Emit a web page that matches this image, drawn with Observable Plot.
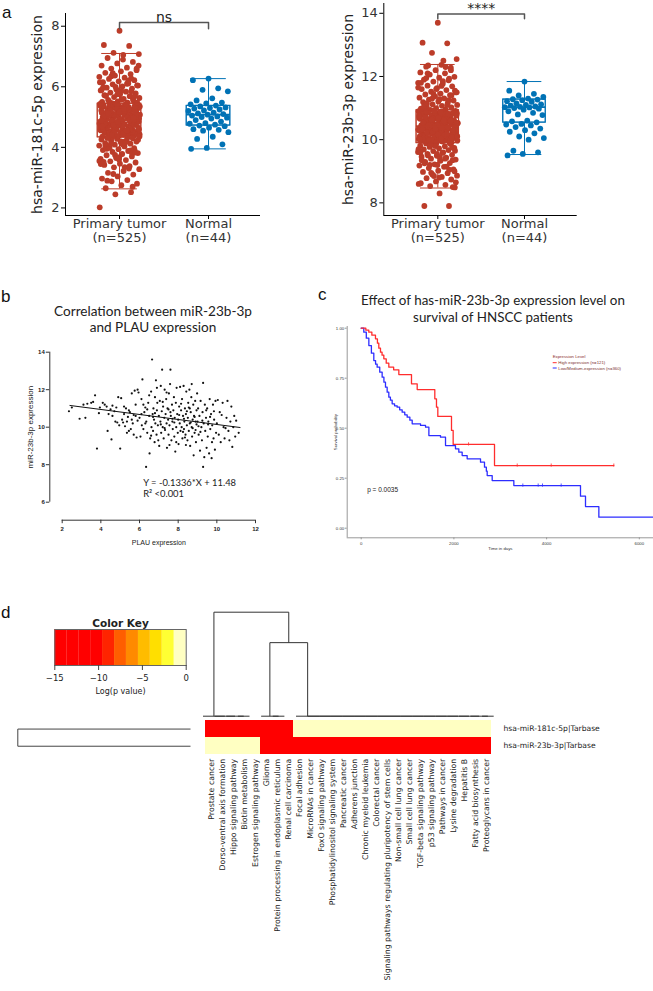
<!DOCTYPE html>
<html><head><meta charset="utf-8">
<script src="https://cdn.jsdelivr.net/npm/d3@7"></script>
<script src="https://cdn.jsdelivr.net/npm/@observablehq/plot@0.6"></script>
<style>
body{margin:0;background:#fff;}
#fig{position:relative;width:653px;height:991px;overflow:hidden;background:#fff;}
#fig svg{position:absolute;overflow:visible;}
</style></head><body><div id="fig"></div>
<script>
// ---------------- DATA ----------------
const parse = s => s.trim().split(/\s+/).map(Number);
const parsePairs = s => s.trim().split(/\s+/).map(p => p.split(",").map(Number));

// panel a
const groupNames = ["Primary tumor", "Normal"];
const groupN = [525, 44];
const groupColors = ["#BC3C29", "#0072B5"];

const mir181Tumor = parse(`
7.85 7.38 7.35 7.12 7.08 7.05 6.95 6.82 6.77 6.7 6.63 6.6 6.55 6.51 6.46 6.42 6.37 6.33 6.3 6.26 6.22 6.18 6.15 6.11 6.08 6.04 6.01 5.97 5.94 5.91 5.88 5.84 5.81 5.78 5.75 5.72 5.69 5.66 5.63 5.6 5.57 5.55 5.52 5.5 5.48 5.46 6.05 5.86 5.71 6.28
5.44 5.43 5.41 5.4 5.38 5.36 5.35 5.33 5.31 5.3 5.28 5.27 5.25 5.23 5.22 5.2 5.18 5.17 5.15 5.13 5.12 5.1 5.08 5.07 5.05 5.03 5.02 5.0 4.98 4.97 4.95 4.93 4.92 4.91 5.42 5.37 5.32 5.26 5.21 5.16 5.11 5.06 5.01 4.96 5.34 5.19 5.04 5.29 5.14 4.99
4.89 4.87 4.86 4.84 4.82 4.81 4.79 4.77 4.75 4.74 4.72 4.7 4.68 4.67 4.65 4.63 4.62 4.6 4.58 4.56 4.55 4.53 4.51 4.5 4.48 4.46 4.45 4.43 4.41 4.4 4.38 4.36 4.35 4.34 4.88 4.83 4.78 4.73 4.69 4.64 4.59 4.54 4.49 4.44 4.39 4.76 4.61 4.47 4.85 4.71
4.32 4.3 4.28 4.26 4.24 4.22 4.19 4.17 4.14 4.12 4.09 4.06 4.03 4.0 3.97 3.94 3.91 3.88 3.85 3.81 3.78 3.74 3.7 3.66 3.62 3.58 3.54 3.5 3.46 3.42 3.38 3.34 3.28 3.22 3.16 3.1 3.04 2.97 2.92 2.88 2.8 2.75 2.65 2.52 2.45 2.02 4.2 4.05 3.9 3.6
5.39 5.24 5.09 4.94 4.8 4.66 4.52 4.37 5.45 5.3 5.15 5.0 4.86 4.72 4.57 4.42 5.35 5.2 5.05 4.9 4.76 4.62 4.48 4.33 5.41 5.26 5.11 4.97 4.83 4.68 4.54 4.4 5.33 5.18 5.03 4.89 4.74 4.6 4.46 4.31
5.6 5.75 5.9 6.1 6.35 6.6 4.2 4.05 3.9 3.75 3.55 3.35 5.52 5.68 5.82 5.98 6.2 6.45 4.25 4.1 3.95 3.8 3.65 3.45 5.36 5.22 5.07 4.93 4.78 4.63 4.49 4.36 5.27 5.13 4.98 4.84 4.69 4.55 4.41
5.48 5.58 5.7 5.85 6.0 6.15 4.15 3.98 3.83 3.68 3.52 3.3 3.12 6.7 6.9 2.9 2.7 5.44 4.88 4.56 4.12`);
const mir181Normal = parse(`6.27 6.22 5.95 5.9 5.85 5.62 5.55 5.48 5.45 5.42 5.38 5.35 5.32 5.3 5.28 5.25 5.22 5.2 5.15 5.12 5.1 5.08 5.05 5.02 5.0 4.98 4.95 4.9 4.85 4.8 4.78 4.75 4.72 4.7 4.65 4.6 4.58 4.55 4.5 4.35 4.28 4.1 3.98 3.95`);
const box181Q1 = [4.33, 4.72], box181Median = [4.9, 5.08], box181Q3 = [5.44, 5.37], box181Lower = [2.63, 3.95], box181Upper = [7.1, 6.27];

const mir23bTumor = parse(`
13.7 13.07 13.05 12.75 12.55 12.37 12.31 12.28 12.2 12.13 12.1 12.06 11.99 11.96 11.9 11.88 11.84 11.8 11.77 11.71 11.69 11.63 11.6 11.57 11.52 11.5 11.46 11.43 11.41 11.37 11.33 11.31 11.27 11.24 11.21 11.19 11.16 11.12 11.1 11.07 11.05 11.02 11.0 10.98 10.96 10.94 11.55 11.28 11.14 11.93
10.92 10.9 10.89 10.86 10.85 10.83 10.8 10.79 10.77 10.76 10.74 10.71 10.7 10.68 10.66 10.65 10.63 10.61 10.6 10.58 10.57 10.55 10.53 10.52 10.5 10.49 10.47 10.46 10.44 10.43 10.91 10.87 10.82 10.78 10.73 10.69 10.64 10.59 10.54 10.48 10.45 10.62 10.75 10.84 10.51 10.67 10.56 10.72 10.88 10.81
10.42 10.4 10.39 10.37 10.35 10.34 10.32 10.3 10.29 10.27 10.25 10.23 10.22 10.2 10.18 10.17 10.15 10.13 10.12 10.1 10.08 10.06 10.05 10.03 10.01 10.0 9.98 9.97 9.95 9.93 9.92 9.9 10.41 10.36 10.31 10.26 10.21 10.16 10.11 10.07 10.02 9.96 9.91 10.19 10.28 10.33 10.09 9.99 10.14 10.24
9.88 9.86 9.84 9.81 9.79 9.77 9.74 9.72 9.69 9.67 9.64 9.61 9.58 9.55 9.52 9.49 9.46 9.43 9.4 9.37 9.33 9.3 9.26 9.22 9.18 9.14 9.1 9.06 9.02 8.98 8.94 8.9 8.86 8.82 8.78 8.74 8.68 8.62 8.57 8.53 8.49 8.3 7.9 7.9 9.83 9.7 9.6 9.5 9.35 9.2
10.88 10.73 10.58 10.43 10.29 10.14 9.99 10.85 10.7 10.55 10.4 10.26 10.11 9.96 10.82 10.67 10.52 10.37 10.23 10.08 9.93 10.79 10.64 10.49 10.34 10.2 10.05 9.9 10.91 10.76 10.61 10.46 10.31 10.17 10.02
11.1 11.3 11.5 11.7 11.95 12.2 9.8 9.6 9.4 9.2 9.0 8.8 11.05 11.25 11.45 11.65 11.85 12.1 9.75 9.55 9.35 9.15 8.95 8.65 10.87 10.72 10.57 10.42 10.28 10.13 9.98 10.84 10.69 10.54 10.39 10.25 10.1 9.95
11.15 11.4 11.6 11.8 12.3 9.85 9.65 9.45 9.25 9.05 8.85 8.6 12.5 12.35 8.5 10.47 10.33 10.18 10.63 10.78 10.03 10.9 10.6 10.35 10.0`);
const mir23bNormal = parse(`11.84 11.55 11.45 11.4 11.35 11.3 11.28 11.27 11.25 11.22 11.2 11.15 11.12 11.1 11.08 11.05 11.04 11.03 11.02 11.0 10.98 10.95 10.9 10.85 10.8 10.78 10.6 10.58 10.55 10.5 10.48 10.45 10.4 10.35 10.3 10.25 10.2 10.1 10.05 10.0 9.65 9.6 9.55 9.5`);
const box23bQ1 = [9.89, 10.54], box23bMedian = [10.43, 11.03], box23bQ3 = [10.93, 11.27], box23bLower = [8.47, 9.53], box23bUpper = [12.38, 11.84];

const sigLabels = ["ns", "****"];
const bracketLevels = [[7.92, 8.12], [13.83, 13.98]];
const sigLevels = [8.29, 14.16];

// panel b
const plauMir23b = parsePairs(`
2.35,10.85 2.5,11.05 2.9,10.45 3.1,11.2 3.2,10.5 3.3,11.25 3.5,11.3 3.6,11.35 3.8,8.86 3.9,10.75 3.95,11.05 3.7,11.7
4.1,11.3 4.2,11.2 4.3,11.1 4.35,9.8 4.5,10.95 4.55,9.35 4.6,11.15 4.7,10.85 4.75,10.3 4.8,11.05 4.85,10.25 4.9,11.6 4.95,10.1 4.6,10.6 4.4,10.7 5.0,8.86
5.05,11.55 5.1,10.4 5.15,10.25 5.2,11.1 5.25,10.05 5.3,11.0 5.35,9.7 5.4,10.55 5.45,10.9 5.5,10.8 5.55,9.9 5.6,11.8 5.65,10.2 5.7,9.6 5.75,11.95 5.8,10.6 5.85,9.45 5.9,10.35 5.95,11.85 5.2,10.7 5.45,9.8 5.7,10.65 5.9,12.0 5.6,10.4 5.35,10.3 5.8,11.2
6.0,10.5 6.05,9.5 6.1,11.5 6.12,10.1 6.15,12.55 6.2,9.9 6.25,10.8 6.3,11.05 6.34,7.88 6.35,10.3 6.4,9.7 6.45,11.3 6.5,10.6 6.52,8.6 6.55,9.4 6.6,11.9 6.62,10.0 6.65,13.61 6.68,10.7 6.7,9.8 6.72,11.0 6.75,10.4 6.78,9.2 6.8,11.6 6.82,10.2 6.85,12.5 6.88,9.6 6.9,10.9 6.92,11.3 6.95,10.1 6.97,9.3 6.1,10.7 6.3,10.2 6.5,11.7 6.7,10.55 6.9,12.1 6.4,10.95 6.6,9.55 6.8,10.75 6.2,11.2
7.0,10.6 7.02,9.0 7.05,11.4 7.08,10.3 7.1,12.2 7.12,9.7 7.15,10.85 7.17,13.07 7.2,10.0 7.22,11.1 7.25,9.4 7.28,10.5 7.3,12.0 7.32,9.85 7.35,10.7 7.38,11.5 7.4,10.2 7.42,8.9 7.45,11.0 7.48,10.4 7.5,9.6 7.52,11.8 7.55,10.1 7.58,12.3 7.6,13.07 7.62,10.6 7.65,9.3 7.68,11.2 7.7,10.3 7.72,9.9 7.75,10.9 7.78,11.6 7.8,9.5 7.82,10.5 7.85,8.7 7.88,11.3 7.9,10.0 7.92,12.1 7.95,10.7 7.98,9.7 7.1,10.15 7.3,9.95 7.5,10.95 7.7,10.45 7.9,9.2 7.4,11.85 7.6,10.8 7.8,10.25 7.2,11.35 7.55,9.05
8.0,10.4 8.02,9.1 8.05,11.1 8.08,10.2 8.1,12.15 8.12,9.8 8.15,10.9 8.18,10.0 8.2,11.5 8.22,9.4 8.25,10.6 8.28,12.2 8.3,9.9 8.32,10.3 8.35,11.0 8.38,9.6 8.4,10.7 8.42,11.9 8.45,10.1 8.48,9.3 8.5,10.5 8.52,11.3 8.55,9.8 8.58,12.0 8.6,10.2 8.62,9.0 8.65,10.8 8.68,11.6 8.7,10.0 8.72,9.5 8.75,10.4 8.78,11.2 8.8,8.5 8.82,10.6 8.85,9.7 8.88,11.4 8.9,10.3 8.92,9.2 8.95,10.9 8.98,11.8 8.05,10.65 8.25,9.75 8.45,10.85 8.65,10.25 8.85,10.55 8.15,11.25 8.35,9.45 8.55,11.05 8.75,9.95 8.95,10.15 8.3,10.45 8.6,11.0 8.9,9.85 8.4,9.05 8.7,12.3
9.0,10.3 9.03,11.0 9.06,9.6 9.1,10.6 9.13,8.75 9.16,11.4 9.2,10.0 9.23,9.3 9.26,10.8 9.29,12.36 9.29,7.88 9.32,10.2 9.35,8.4 9.38,11.2 9.4,9.8 9.44,10.5 9.47,8.9 9.5,11.0 9.53,9.5 9.56,10.3 9.6,8.6 9.63,11.5 9.66,9.9 9.7,10.7 9.73,8.35 9.76,10.1 9.8,11.2 9.83,9.4 9.86,10.4 9.9,8.8 9.93,11.4 9.96,9.7 9.05,10.05 9.25,10.35 9.45,10.9 9.65,10.55 9.85,10.85 9.15,9.75 9.55,10.15 9.75,9.2
10.0,10.2 10.05,11.45 10.1,9.6 10.15,10.8 10.2,9.2 10.3,11.3 10.35,10.0 10.4,9.4 10.5,10.5 10.55,11.4 10.6,9.8 10.65,9.3 10.7,10.3 10.75,11.1 10.8,8.95 10.85,10.0 10.9,10.6 10.95,9.5 11.0,10.35 11.13,9.7 10.25,10.65 10.45,9.95`);
const regSlope = -0.1336, regIntercept = 11.48;
const regXExtent = [2.4, 11.2];
const bXTicks = [2, 4, 6, 8, 10, 12];
const bYTicks = [6, 8, 10, 12, 14];

// panel c (Kaplan-Meier)
const highTime = [0, 100, 164, 230, 308, 350, 380, 416, 450, 488, 540, 596, 700, 812, 1085, 1208, 1588, 1624, 1653, 1948, 1984, 2876, 5450];
const highSurv = [1.0, 0.99, 0.98, 0.965, 0.947, 0.925, 0.9, 0.88, 0.865, 0.847, 0.825, 0.805, 0.792, 0.768, 0.722, 0.693, 0.647, 0.605, 0.559, 0.489, 0.419, 0.313, 0.313];
const lowTime = [0, 56, 110, 165, 220, 272, 310, 344, 400, 452, 490, 524, 560, 596, 630, 668, 720, 776, 830, 884, 940, 992, 1050, 1100, 1280, 1388, 1460, 1711, 1819, 2034, 2106, 2178, 2286, 2574, 2660, 2700, 2718, 2826, 3293, 4731, 4839, 5127, 6306];
const lowSurv = [1.0, 0.98, 0.95, 0.913, 0.875, 0.838, 0.82, 0.805, 0.78, 0.755, 0.73, 0.705, 0.68, 0.655, 0.64, 0.622, 0.612, 0.605, 0.592, 0.58, 0.567, 0.555, 0.54, 0.522, 0.514, 0.505, 0.463, 0.455, 0.413, 0.397, 0.38, 0.363, 0.347, 0.33, 0.305, 0.285, 0.263, 0.238, 0.213, 0.16, 0.108, 0.055, 0.055];
const highCensor = [2316, 3366, 4099, 5450];
const lowCensor = [3487, 3818, 3911, 4314];
const kmTicksX = [0, 2000, 4000, 6000];
const kmTicksY = [0, 0.25, 0.5, 0.75, 1];
const kmLegend = ["High expression (n=121)", "Low/Medium-expression (n=360)"];
const kmColors = ["#ff2d2d", "#2d2dff"];

// panel d
const pathways = ["Prostate cancer","Dorso-ventral axis formation","Hippo signaling pathway","Biotin metabolism","Estrogen signaling pathway","Glioma","Protein processing in endoplasmic reticulum","Renal cell carcinoma","Focal adhesion","MicroRNAs in cancer","FoxO signaling pathway","Phosphatidylinositol signaling system","Pancreatic cancer","Adherens junction","Chronic myeloid leukemia","Colorectal cancer","Signaling pathways regulating pluripotency of stem cells","Non-small cell lung cancer","Small cell lung cancer","TGF-beta signaling pathway","p53 signaling pathway","Pathways in cancer","Lysine degradation","Hepatitis B","Fatty acid biosynthesis","Proteoglycans in cancer"];
const mirNames = ["hsa-miR-181c-5p|Tarbase", "hsa-miR-23b-3p|Tarbase"];
const logP181 = [-15,-15,-15,-15,-15,-15,-15,-15,0,0,0,0,0,0,0,0,0,0,0,0,0,0,0,0,0,0];
const logP23b = [0,0,0,0,0,-15,-15,-15,-15,-15,-15,-15,-15,-15,-15,-15,-15,-15,-15,-15,-15,-15,-15,-15,-15,-15];
const keyBreaks = [-15, -13.64, -12.27, -10.91, -9.55, -8.18, -6.82, -5.45, -4.09, -2.73, -1.36, 0];
const keyColors = ["#ff0000","#ff0000","#ff0000","#ff0000","#ff2400","#ff5e00","#ff8a00","#ffbc00","#ffdf00","#ffff33","#ffffc2"];
const keyTicks = [-15, -10, -5, 0];

// ---------------- DRAW ----------------
const fig = document.getElementById("fig");
function put(svg, left, top) { svg.style.left = left + "px"; svg.style.top = top + "px"; fig.appendChild(svg); return svg; }
const baseStyle = {background: "transparent", overflow: "visible"};

function stripPanel(o) {
  const stats = groupNames.map((g, i) => ({i, q1: o.q1[i], med: o.median[i], q3: o.q3[i], lo: o.lower[i], hi: o.upper[i], c: groupColors[i]}));
  const pts = [];
  [o.tumor, o.normal].forEach((vals, gi) => vals.forEach((v, k) => {
    const j = (((k * 0.6180339887 + 0.5) % 1) - 0.5) * 0.46;
    pts.push({x: gi + j, v, c: groupColors[gi]});
  }));
  const bw = 0.245, cw = 0.2;
  const br = [{x: 0, y: o.bracket[0]}, {x: 0, y: o.bracket[1]}, {x: 1, y: o.bracket[1]}, {x: 1, y: o.bracket[0]}];
  return Plot.plot({
    width: o.width, height: 250, marginLeft: o.ml, marginRight: o.mr, marginTop: o.mt, marginBottom: 35,
    x: {domain: o.xDomain}, y: {domain: o.yDomain}, color: {type: "identity"},
    style: {...baseStyle, fontFamily: "DejaVu Sans", color: "#333"},
    marks: [
      Plot.ruleX(stats, {x: "i", y1: "lo", y2: "hi", stroke: "c"}),
      Plot.ruleY(stats, {y: "lo", x1: d => d.i - cw, x2: d => d.i + cw, stroke: "c"}),
      Plot.ruleY(stats, {y: "hi", x1: d => d.i - cw, x2: d => d.i + cw, stroke: "c"}),
      Plot.rect(stats, {x1: d => d.i - bw, x2: d => d.i + bw, y1: "q1", y2: "q3", fill: "white", stroke: "c"}),
      Plot.dot(pts, {x: "x", y: "v", r: 2.9, fill: "c"}),
      Plot.rect(stats, {x1: d => d.i - bw, x2: d => d.i + bw, y1: "q1", y2: "q3", fill: "none", stroke: "c"}),
      Plot.ruleY(stats, {y: "med", x1: d => d.i - bw, x2: d => d.i + bw, stroke: "c", strokeWidth: 1.6}),
      Plot.line(br, {x: "x", y: "y", stroke: "#555"}),
      Plot.text([o.sig], {x: 0.5, y: o.sigY, fontSize: 14, fill: "#222"}),
      Plot.ruleX([o.xDomain[0]], {stroke: "black"}),
      Plot.ruleY([o.yDomain[0]], {stroke: "black"}),
      Plot.axisY({ticks: o.yTicks, tickFormat: d => String(d), tickSize: 4, tickPadding: 2, label: null, fontSize: 13, stroke: "black", fill: "#333"}),
      Plot.axisX({ticks: [0, 1], tickFormat: i => `${groupNames[i]}\n(n=${groupN[i]})`, tickSize: 4, tickPadding: -1, lineHeight: 1.05, fontSize: 13, label: null, stroke: "black", fill: "#333"}),
      Plot.text([o.yLabel], {frameAnchor: "left", textAnchor: "middle", rotate: -90, dx: o.yLabelDx, fontSize: 14, fill: "#222"})
    ]
  });
}

put(stripPanel({
  width: 330, ml: 65, mr: 70, mt: 13, xDomain: [-0.607, 1.584], yDomain: [1.75, 8.42], yTicks: [2, 4, 6, 8],
  tumor: mir181Tumor, normal: mir181Normal, q1: box181Q1, median: box181Median, q3: box181Q3, lower: box181Lower, upper: box181Upper,
  bracket: bracketLevels[0], sig: sigLabels[0], sigY: sigLevels[0], yLabel: "hsa-miR-181c-5p expression", yLabelDx: -28
}), 0, 0);

put(stripPanel({
  width: 323, ml: 53.3, mr: 76.3, mt: 3, xDomain: [-0.623, 1.608], yDomain: [7.6, 14.31], yTicks: [8, 10, 12, 14],
  tumor: mir23bTumor, normal: mir23bNormal, q1: box23bQ1, median: box23bMedian, q3: box23bQ3, lower: box23bLower, upper: box23bUpper,
  bracket: bracketLevels[1], sig: sigLabels[1], sigY: sigLevels[1], yLabel: "hsa-miR-23b-3p expression", yLabelDx: -35
}), 330, 0);

// panel b
const bXDomain = [1.359, 12], bYDomain = [5.04, 14];
put(Plot.plot({
  width: 300, height: 220, marginLeft: 49.3, marginRight: 45, marginTop: 11.7, marginBottom: 40.3,
  x: {domain: bXDomain}, y: {domain: bYDomain},
  style: {...baseStyle, fontFamily: "Liberation Sans", color: "#222"},
  marks: [
    Plot.ruleX([bXDomain[0]], {y1: bYTicks[0], y2: bYTicks[bYTicks.length - 1], stroke: "#333"}),
    Plot.ruleY([bYDomain[0]], {x1: bXTicks[0], x2: bXTicks[bXTicks.length - 1], stroke: "#333"}),
    Plot.axisY({ticks: bYTicks, tickSize: 3.5, tickPadding: 1.5, fontSize: 6, fontWeight: "bold", label: null, stroke: "#333"}),
    Plot.axisX({ticks: bXTicks, tickSize: 3.5, tickPadding: 3, fontSize: 6, fontWeight: "bold", label: null, stroke: "#333"}),
    Plot.dot(plauMir23b, {x: d => d[0], y: d => d[1], r: 1.1, fill: "#111"}),
    Plot.line(regXExtent, {x: d => d, y: d => regIntercept + regSlope * d, stroke: "#111", strokeWidth: 1}),
    Plot.text(["Y = -0.1336*X + 11.48"], {x: 6.19, y: 7.02, textAnchor: "start", fontSize: 9.4, fontFamily: "Lato", fill: "#222"}),
    Plot.text(["R\u00B2 <0.001"], {x: 6.19, y: 6.46, textAnchor: "start", fontSize: 9.4, fontFamily: "Lato", fill: "#222"}),
    Plot.text(["miR-23b-3p expression"], {x: bXDomain[0], y: 10, rotate: -90, dx: -19, fontSize: 8, fill: "#222"}),
    Plot.text(["PLAU expression"], {x: 7, frameAnchor: "bottom", dy: 25, fontSize: 7, fill: "#222"})
  ]
}), 0, 340);

// panel c
const highData = highTime.map((t, i) => ({t, s: highSurv[i]}));
const lowData = lowTime.map((t, i) => ({t, s: lowSurv[i]}));
const stepAt = (T, S, t) => { let s = S[0]; for (let i = 0; i < T.length; i++) if (T[i] <= t) s = S[i]; return s; };
const censorData = [
  ...highCensor.map(t => ({t, s: stepAt(highTime, highSurv, t), c: kmColors[0]})),
  ...lowCensor.map(t => ({t, s: stepAt(lowTime, lowSurv, t), c: kmColors[1]}))
];
put(Plot.plot({
  width: 323, height: 240, marginLeft: 16.7, marginRight: 0, marginTop: 6, marginBottom: 22.7,
  x: {domain: [-302, 6306]}, y: {domain: [-0.048, 1.0085]}, color: {type: "identity"},
  style: {...baseStyle, fontFamily: "Liberation Sans", color: "#333"},
  marks: [
    Plot.ruleX([-302], {stroke: "#999"}),
    Plot.ruleY([-0.048], {stroke: "#999"}),
    Plot.axisY({ticks: kmTicksY, tickFormat: ".2f", tickSize: 2, tickPadding: 1, fontSize: 4.3, stroke: "#999", label: "Survival probability", labelAnchor: "center", labelArrow: "none", labelOffset: 13}),
    Plot.axisX({ticks: kmTicksX, tickFormat: d => String(d), tickSize: 2, tickPadding: 2, fontSize: 4.3, stroke: "#999", label: "Time in days", labelAnchor: "center", labelArrow: "none", labelOffset: 12}),
    Plot.line(lowData, {x: "t", y: "s", curve: "step-after", stroke: kmColors[1], strokeWidth: 1.3}),
    Plot.line(highData, {x: "t", y: "s", curve: "step-after", stroke: kmColors[0], strokeWidth: 1.3}),
    Plot.ruleX(censorData, {x: "t", y1: d => d.s - 0.008, y2: d => d.s + 0.008, stroke: "c", strokeWidth: 0.8}),
    Plot.text(["p = 0.0035"], {x: 129, y: 0.192, textAnchor: "start", fontSize: 6.5, fill: "#222"})
  ]
}), 330, 320);

// panel d: color key
const keyBins = keyColors.map((c, i) => ({a: keyBreaks[i], b: keyBreaks[i + 1], c}));
put(Plot.plot({
  width: 200, height: 100, marginLeft: 54.3, marginRight: 14.3, marginTop: 29, marginBottom: 35,
  x: {domain: [keyBreaks[0], keyBreaks[keyBreaks.length - 1]]}, y: {domain: [0, 1], axis: null}, color: {type: "identity"},
  style: {...baseStyle, fontFamily: "DejaVu Sans", color: "#222"},
  marks: [
    Plot.rect(keyBins, {x1: "a", x2: "b", y1: 0, y2: 1, fill: "c"}),
    Plot.frame({stroke: "#666"}),
    Plot.axisX({ticks: keyTicks, tickSize: 5, tickPadding: 4, fontSize: 8.5, label: null, stroke: "#444"}),
    Plot.text(["Log(p value)"], {frameAnchor: "bottom", dy: 28, fontSize: 8}),
    Plot.text(["Color Key"], {frameAnchor: "top", dy: -10, fontSize: 10.5, fontWeight: "bold"})
  ]
}), 0, 600);

// dendrogram helpers: node = leaf index or [left, right, height]
function chain(a, b) { let n = b; for (let i = b - 1; i >= a; i--) n = [i, n, 0]; return n; }
function layoutTree(node, segs) {
  if (typeof node === "number") return {p: node, h: 0};
  const L = layoutTree(node[0], segs), R = layoutTree(node[1], segs), h = node[2];
  segs.push({p1: L.p, h1: L.h, p2: L.p, h2: h}, {p1: L.p, h1: h, p2: R.p, h2: h}, {p1: R.p, h1: h, p2: R.p, h2: R.h});
  return {p: (L.p + R.p) / 2, h};
}
const colTree = [chain(0, 4), [chain(5, 7), chain(8, 25), 1.0], 1.414];
const rowTreeHeight = Math.sqrt(26);
const rowTree = [0, 1, rowTreeHeight];

const colSegs = []; layoutTree(colTree, colSegs);
put(Plot.plot({
  width: 653, height: 120, marginLeft: 196.7, marginRight: 154, marginTop: 11.7, marginBottom: 4.3,
  x: {domain: [-0.5, pathways.length - 0.5], axis: null}, y: {domain: [0, 1.414], axis: null},
  style: baseStyle,
  marks: [Plot.link(colSegs, {x1: "p1", y1: "h1", x2: "p2", y2: "h2", stroke: "#333", strokeWidth: 1})]
}), 0, 600);

const rowSegs = []; layoutTree(rowTree, rowSegs);
put(Plot.plot({
  width: 200, height: 50, marginLeft: 17.3, marginRight: 10, marginTop: 5, marginBottom: 10.7,
  x: {domain: [rowTreeHeight, 0], axis: null}, y: {domain: [-0.5, 1.5], axis: null},
  style: baseStyle,
  marks: [Plot.link(rowSegs, {x1: "h1", y1: "p1", x2: "h2", y2: "p2", stroke: "#444", strokeWidth: 1})]
}), 0, 715);

// heatmap
const cells = [];
pathways.forEach((p, i) => { cells.push({col: p, row: mirNames[0], v: logP181[i]}); cells.push({col: p, row: mirNames[1], v: logP23b[i]}); });
put(Plot.plot({
  width: 653, height: 276, marginLeft: 196.7, marginRight: 154, marginTop: 5, marginBottom: 236.7,
  x: {domain: pathways, padding: 0}, y: {domain: mirNames, padding: 0},
  color: {type: "threshold", domain: keyBreaks.slice(1, -1), range: keyColors},
  style: {...baseStyle, fontFamily: "DejaVu Sans", color: "#222"},
  marks: [
    Plot.cell(cells, {x: "col", y: "row", fill: "v"}),
    Plot.axisX({tickRotate: -90, tickSize: 0, tickPadding: 4, fontSize: 7.8, label: null}),
    Plot.axisY({anchor: "right", tickSize: 0, tickPadding: 4, fontSize: 7.6, label: null})
  ]
}), 0, 715);

// overlay texts: panel letters and titles, KM legend
const ov = d3.create("svg").attr("width", 653).attr("height", 991).style("left", "0px").style("top", "0px").style("pointer-events", "none");
const txt = (s, x, y, o = {}) => ov.append("text").attr("x", x).attr("y", y).attr("font-family", o.ff || "Liberation Sans").attr("font-size", o.fs || 17)
  .attr("text-anchor", o.anchor || "start").attr("dominant-baseline", o.base || "alphabetic").attr("fill", o.fill || "#111").text(s);
txt("a", 2, 18.3); txt("b", 1, 301.7); txt("c", 318, 300); txt("d", 1, 618.3);
txt("Correlation between miR-23b-3p", 153, 311, {ff: "Lato", fs: 13.6, anchor: "middle", base: "central", fill: "#222"});
txt("and PLAU expression", 153, 327.2, {ff: "Lato", fs: 13.6, anchor: "middle", base: "central", fill: "#222"});
txt("Effect of has-miR-23b-3p expression level on", 493, 300, {ff: "Lato", fs: 13.4, anchor: "middle", base: "central", fill: "#222"});
txt("survival of HNSCC patients", 493, 316.7, {ff: "Lato", fs: 13.4, anchor: "middle", base: "central", fill: "#222"});
txt("Expression Level", 552.7, 356, {fs: 4.3, base: "central", fill: "#8a2a2a"});
kmLegend.forEach((s, i) => {
  const y = 362.7 + i * 5.3;
  ov.append("line").attr("x1", 552.7).attr("x2", 556.7).attr("y1", y).attr("y2", y).attr("stroke", kmColors[i]).attr("stroke-width", 1);
  txt(s, 558.3, y, {fs: 4.3, base: "central", fill: "#7a2f2f"});
});
fig.appendChild(ov.node());
</script></body></html>
